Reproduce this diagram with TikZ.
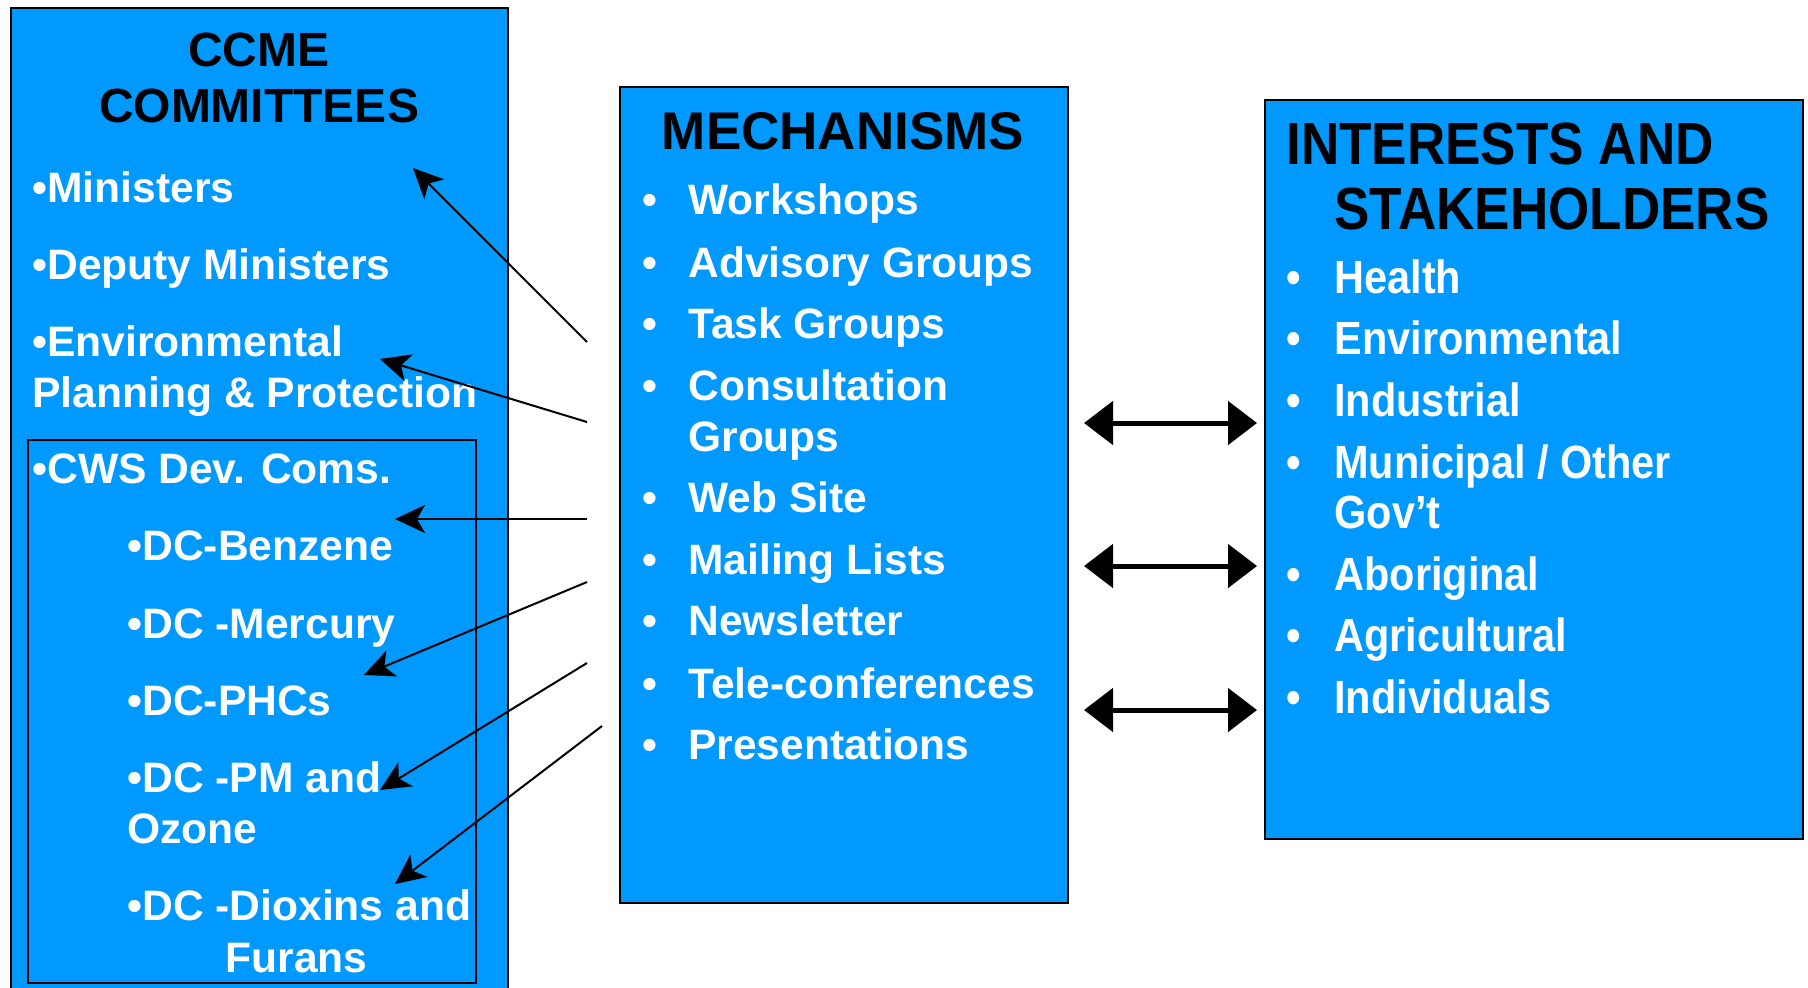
\documentclass[tikz,border=0pt]{standalone}
\usepackage{fontspec}
\setmainfont{Liberation Sans}
\newfontfamily\narrowfont{Liberation Sans}[FakeStretch=0.89]
\usetikzlibrary{arrows.meta}
\definecolor{boxblue}{RGB}{0,153,255}
\begin{document}
\begin{tikzpicture}[x=0.5pt,y=-0.5pt,
  box/.style={draw=black, fill=boxblue, line width=1.2pt, inner sep=0pt, anchor=north west},
  ltitle/.style={font=\bfseries\fontsize{24pt}{28pt}\selectfont, text=black, inner sep=0pt, anchor=base},
  ltext/.style={font=\bfseries\fontsize{21.3pt}{26pt}\selectfont, text=white, inner sep=0pt, anchor=base west},
  mtitle/.style={font=\bfseries\fontsize{26.5pt}{30pt}\selectfont, text=black, inner sep=0pt, anchor=base},
  mtext/.style={font=\bfseries\fontsize{21.25pt}{26pt}\selectfont, text=white, inner sep=0pt, anchor=base west},
  rtitle/.style={font=\narrowfont\bfseries\fontsize{29.8pt}{34pt}\selectfont, text=black, inner sep=0pt, anchor=base west},
  rtext/.style={font=\narrowfont\bfseries\fontsize{23.3pt}{28pt}\selectfont, text=white, inner sep=0pt, anchor=base west},
  arr/.style={-{Stealth[length=15pt,width=14pt,inset=4pt]}, line width=1pt, black},
  darr/.style={{Triangle[length=14.5pt,width=21.5pt]}-{Triangle[length=14.5pt,width=21.5pt]}, line width=2.5pt, black}
]
\path[use as bounding box, clip] (0,0) rectangle (1808,987);

% boxes
\node[box, minimum width=248.5pt, minimum height=496.5pt] (ccme) at (10,7) {};
\node[box, minimum width=224pt, minimum height=271.5pt] (cws) at (27,439) {};
\node[box, minimum width=224pt, minimum height=408pt] (mech) at (619,86) {};
\node[box, minimum width=269pt, minimum height=369.5pt] (inter) at (1264,99) {};

% left box texts
\node[ltitle] (t1) at (259,66) {CCME};
\node[ltitle] (t2) at (259,122) {COMMITTEES};
\node[ltext] (l1) at (32,202) {•Ministers};
\node[ltext] (l2) at (32,279) {•Deputy Ministers};
\node[ltext] (l3) at (32,356) {•Environmental};
\node[ltext] (l3b) at (32,407) {Planning \& Protection};
\node[ltext] (l4) at (32,483) {•CWS Dev. Coms.};
\node[ltext] (l5) at (127,560) {•DC-Benzene};
\node[ltext] (l6) at (127,638) {•DC -Mercury};
\node[ltext] (l7) at (127,715) {•DC-PHCs};
\node[ltext] (l8) at (127,792) {•DC -PM and};
\node[ltext] (l8b) at (127,843) {Ozone};
\node[ltext] (l9) at (127,920) {•DC -Dioxins and};
\node[ltext] (l9b) at (225,972) {Furans};

% middle box texts
\node[mtitle] (mt) at (843,149) {MECHANISMS};
\foreach \y/\txt [count=\i] in {214/Workshops, 277/Advisory Groups, 338/Task Groups, 400/Consultation, 512/Web Site, 574/Mailing Lists, 635/Newsletter, 698/Tele-conferences, 759/Presentations}{
  \node[mtext] (mb\i) at (642,\y) {•};
  \node[mtext] (m\i) at (688,\y) {\txt};
}
\node[mtext] (m4b) at (688,451) {Groups};

% right box texts
\node[rtitle] (rt1) at (1286,164) {INTERESTS AND};
\node[rtitle] (rt2) at (1334,229) {STAKEHOLDERS};
\foreach \y/\txt [count=\i] in {293/Health, 354/Environmental, 416/Industrial, 478/{Municipal / Other}, 590/Aboriginal, 651/Agricultural, 713/Individuals}{
  \node[rtext] (rb\i) at (1286,\y) {•};
  \node[rtext] (r\i) at (1334,\y) {\txt};
}
\node[rtext] (r4b) at (1334,528) {Gov’t};

% single arrows
\coordinate (s1) at (587,342); \coordinate (e1) at (413,168);
\coordinate (s2) at (587,422); \coordinate (e2) at (380,359);
\coordinate (s3) at (587,519); \coordinate (e3) at (395,519);
\coordinate (s4) at (587,582); \coordinate (e4) at (364,675);
\coordinate (s5) at (587,663); \coordinate (e5) at (380,790);
\coordinate (s6) at (602,726); \coordinate (e6) at (395,884);
\foreach \i in {1,...,6}{\draw[arr] (s\i) -- (e\i);}

% double arrows
\coordinate (a1) at (1084,423); \coordinate (b1) at (1257,423);
\coordinate (a2) at (1084,566); \coordinate (b2) at (1257,566);
\coordinate (a3) at (1084,710); \coordinate (b3) at (1257,710);
\foreach \i in {1,2,3}{\draw[darr] (a\i) -- (b\i);}
\end{tikzpicture}
\end{document}
